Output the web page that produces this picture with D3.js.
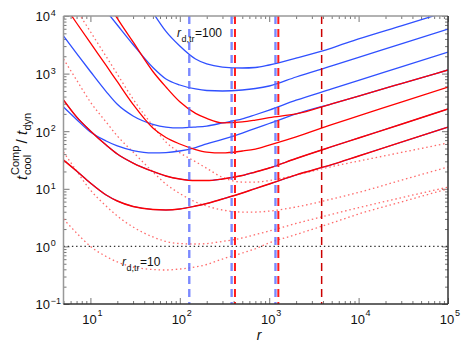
<!DOCTYPE html>
<html>
<head>
<meta charset="utf-8">
<script src="https://cdn.jsdelivr.net/npm/d3@7"></script>
<style>
body { margin: 0; background: #fff; }
text { font-family: "Liberation Sans", Arial, Helvetica, sans-serif; fill: #111; }
</style>
</head>
<body>
<script>
// sample radii shared by every curve
var rGrid = [5, 7, 10, 15, 20, 30, 50, 70, 100, 150, 200, 300, 500, 700, 1000, 2000, 5000, 1e4, 3e4, 1e5];

// blue solid curves
var blueA = [null, null, null, null, null, null, 11500, 5400, 3010, 1790, 1470, 1300, 1250, 1275, 1410, 1860, 2780, 4000, 6760, 12000];
var blueB = [null, null, null, 12200, 6980, 3200, 1276, 806, 634, 541, 509, 499, 519, 551, 609, 873, 1360, 1910, 3290, 5940];
var blueC = [4500, 2245, 1087, 488, 293, 184, 132, 118, 114, 118, 123, 139, 163, 193, 233, 345, 542, 762, 1310, 2370];
var blueD = [263, 160, 96.8, 67.6, 55.4, 46.2, 41.9, 42.4, 45.3, 52.1, 60, 71.8, 93, 112, 136, 199, 299, 408, 670, 1155];
var blueE = [348, 177, 101, 57.5, 40.2, 28, 20, 16.7, 14.8, 13.9, 13.9, 14.8, 17, 19.6, 23, 33.6, 53.8, 76.2, 132, 243];
var blueF = [31.6, 20.4, 12.6, 7.8, 6.14, 4.93, 4.37, 4.29, 4.46, 5.02, 5.55, 6.65, 8.45, 10.1, 12.1, 17.4, 26.2, 37.1, 64.4, 118];

// red solid curves
var redA = [null, null, null, 19000, 9060, 3540, 1087, 585, 324, 204, 167, 140, 145, 156, 172, 199, 299, 408, 670, 1155];
var redB = [16300, 7560, 3400, 1384, 723, 293, 114, 77.6, 60, 48.1, 43.5, 41.9, 45.3, 49, 57.5, 80, 130, 184, 320, 585];
var redC = [348, 177, 101, 57.5, 40.2, 28, 20, 16.7, 14.8, 13.9, 13.9, 14.8, 17, 19.6, 23, 33.6, 53.8, 76.2, 132, 243];
var redD = [31.6, 20.4, 12.6, 7.8, 6.14, 4.93, 4.37, 4.29, 4.46, 5.02, 5.55, 6.65, 8.45, 10.1, 12.1, 17.4, 26.2, 37.1, 64.4, 118];

// red dotted curves
var dotA = [null, 12700, 5340, 1980, 977, 362, 124, 65, 42.4, 29.5, 22.7, 15.8, 13.1, 13.1, 13.9, 17.4, 24.3, 30.3, 42.7, 62.4];
var dotB = [1790, 774, 321, 144, 82.6, 43.5, 19.6, 12.1, 8.28, 5.9, 5.02, 4.28, 3.95, 3.95, 4.1, 4.83, 6.65, 8.66, 14.1, 23.9];
var dotC = [43.5, 20.4, 9.5, 5.02, 3.37, 2.17, 1.46, 1.22, 1.12, 1.1, 1.12, 1.22, 1.4, 1.6, 1.85, 2.5, 3.6, 4.7, 7.0, 10.7];
var dotD = [2.99, 1.71, 1.0, 0.668, 0.537, 0.439, 0.397, 0.389, 0.405, 0.439, 0.485, 0.604, 0.768, 0.91, 1.15, 1.61, 2.55, 3.65, 5.9, 10];

// vertical dashed markers
var vBlue = [127.6, 380, 1175];
var vRed = [414, 1265];
var vDark = [3860];
var unityLine = 1;

var xTicks = [10, 100, 1000, 1e4, 1e5];
var xExps = ["1", "2", "3", "4", "5"];
var yTicks = [0.1, 1, 10, 100, 1000, 1e4];
var yExps = ["\u22121", "0", "1", "2", "3", "4"];

var width = 463, height = 345;
var pL = 63.5, pR = 448, pT = 16, pB = 304;

var x = d3.scaleLog().domain([5, 1e5]).range([pL, pR]);
var y = d3.scaleLog().domain([0.1, 1e4]).range([pB, pT]);

var svg = d3.select("body").append("svg")
	.attr("width", width)
	.attr("height", height);

svg.append("defs").append("clipPath").attr("id", "plotclip")
	.append("rect")
	.attr("x", pL).attr("y", pT)
	.attr("width", pR-pL).attr("height", pB-pT);

// ticks (inward on all four sides)
function isMajor(v) {
	var l = Math.log10(v);
	return Math.abs(l - Math.round(l)) < 1e-9;
}
var minorX = x.ticks().filter(function(v) { return !isMajor(v); });
var minorY = y.ticks().filter(function(v) { return !isMajor(v); });

function addAxis(axis, tr) {
	var g = svg.append("g").attr("transform", tr).call(axis);
	g.select(".domain").remove();
	g.selectAll("line").attr("stroke", "#777").attr("stroke-width", 1);
	g.selectAll("text").remove();
}
[[minorX, 3], [xTicks, 6]].forEach(function(t) {
	addAxis(d3.axisBottom(x).tickValues(t[0]).tickSizeInner(-t[1]).tickSizeOuter(0), "translate(0," + pB + ")");
	addAxis(d3.axisTop(x).tickValues(t[0]).tickSizeInner(-t[1]).tickSizeOuter(0), "translate(0," + pT + ")");
});
[[minorY, 3], [yTicks, 6]].forEach(function(t) {
	addAxis(d3.axisLeft(y).tickValues(t[0]).tickSizeInner(-t[1]).tickSizeOuter(0), "translate(" + pL + ",0)");
	addAxis(d3.axisRight(y).tickValues(t[0]).tickSizeInner(-t[1]).tickSizeOuter(0), "translate(" + pR + ",0)");
});

var plot = svg.append("g").attr("clip-path", "url(#plotclip)");

var line = d3.line()
	.defined(function(d) { return d[1] != null; })
	.x(function(d) { return x(d[0]); })
	.y(function(d) { return y(d[1]); })
	.curve(d3.curveMonotoneX);

function pairs(vals) {
	return rGrid.map(function(r, i) { return [r, vals[i]]; });
}

// y = 1 reference
plot.append("path")
	.attr("d", line([[x.domain()[0], unityLine], [x.domain()[1], unityLine]]))
	.attr("fill", "none")
	.attr("stroke", "#333")
	.attr("stroke-width", 1.2)
	.attr("stroke-dasharray", "1.4,2.8");

var series = [
	{ v: dotA, c: "#ff6a6a", w: 1.3, dash: "1.5,2.8" },
	{ v: dotB, c: "#ff6a6a", w: 1.3, dash: "1.5,2.8" },
	{ v: dotC, c: "#ff6a6a", w: 1.3, dash: "1.5,2.8" },
	{ v: dotD, c: "#ff6a6a", w: 1.3, dash: "1.5,2.8" },
	{ v: blueA, c: "#3050ff", w: 1.3 },
	{ v: blueB, c: "#3050ff", w: 1.3 },
	{ v: blueC, c: "#3050ff", w: 1.3 },
	{ v: blueD, c: "#3050ff", w: 1.3 },
	{ v: blueE, c: "#3050ff", w: 1.1 },
	{ v: blueF, c: "#3050ff", w: 1.1 },
	{ v: redA, c: "#ff0000", w: 1.3 },
	{ v: redB, c: "#ff0000", w: 1.3 },
	{ v: redC, c: "#ff0000", w: 1.4 },
	{ v: redD, c: "#ff0000", w: 1.4 }
];

plot.selectAll("path.curve").data(series).enter()
	.append("path")
	.attr("class", "curve")
	.attr("d", function(d) { return line(pairs(d.v)); })
	.attr("fill", "none")
	.attr("stroke", function(d) { return d.c; })
	.attr("stroke-width", function(d) { return d.w; })
	.attr("stroke-dasharray", function(d) { return d.dash || null; });

function vlines(vals, color, w, op) {
	plot.selectAll(null).data(vals).enter()
		.append("line")
		.attr("x1", function(d) { return x(d); }).attr("x2", function(d) { return x(d); })
		.attr("y1", pT).attr("y2", pB)
		.attr("stroke", color)
		.attr("stroke-width", w)
		.attr("stroke-opacity", op)
		.attr("stroke-dasharray", "8,5");
}
vlines(vBlue, "#5a6cff", 2.4, 0.8);
vlines(vRed, "#ff1a1a", 2, 1);
vlines(vDark, "#cc0000", 1.5, 1);

// frame
svg.append("line").attr("x1", pL).attr("x2", pL).attr("y1", pT).attr("y2", pB)
	.attr("stroke", "#999").attr("stroke-width", 1.5);
svg.append("line").attr("x1", pL).attr("x2", pR).attr("y1", pT).attr("y2", pT)
	.attr("stroke", "#999").attr("stroke-width", 1.5);
svg.append("line").attr("x1", pR).attr("x2", pR).attr("y1", pT).attr("y2", pB)
	.attr("stroke", "#333").attr("stroke-width", 1.5);
svg.append("line").attr("x1", pL).attr("x2", pR).attr("y1", pB).attr("y2", pB)
	.attr("stroke", "#333").attr("stroke-width", 1.5);

// tick labels
yTicks.forEach(function(v, i) {
	var py = y(v);
	svg.append("text").attr("x", 50).attr("y", py + 5.3)
		.attr("text-anchor", "end").attr("font-size", 13).text("10");
	svg.append("text").attr("x", 50.8).attr("y", py)
		.attr("font-size", 9).text(yExps[i]);
});
xTicks.forEach(function(v, i) {
	var px = x(v);
	svg.append("text").attr("x", px + 6.3).attr("y", 324)
		.attr("text-anchor", "end").attr("font-size", 13).text("10");
	svg.append("text").attr("x", px + 7).attr("y", 315.5)
		.attr("font-size", 9).text(xExps[i]);
});

// axis titles
svg.append("text").attr("x", 259).attr("y", 339.5)
	.attr("text-anchor", "middle").attr("font-size", 14)
	.attr("font-style", "italic").text("r");

var ylab = svg.append("g").attr("transform", "translate(27,147) rotate(-90)");
ylab.append("text").attr("x", -33).attr("y", 0).attr("font-size", 15)
	.attr("font-style", "italic").text("t");
ylab.append("text").attr("x", -28).attr("y", -8).attr("font-size", 11).text("Comp");
ylab.append("text").attr("x", -28).attr("y", 4).attr("font-size", 11).text("cool");
ylab.append("text").attr("x", 3.5).attr("y", 0).attr("font-size", 15).text("/");
ylab.append("text").attr("x", 12).attr("y", 0).attr("font-size", 15)
	.attr("font-style", "italic").text("t");
ylab.append("text").attr("x", 16.5).attr("y", 4).attr("font-size", 11).text("dyn");

// curve annotations
function annot(px, py, val) {
	svg.append("text").attr("x", px).attr("y", py).attr("font-size", 12)
		.attr("font-style", "italic").text("r");
	svg.append("text").attr("x", px + 4.5).attr("y", py + 4.5).attr("font-size", 9).text("d,tr");
	svg.append("text").attr("x", px + 18).attr("y", py).attr("font-size", 12).text("=" + val);
}
annot(177, 37, "100");
annot(122, 266, "10");
</script>
</body>
</html>
